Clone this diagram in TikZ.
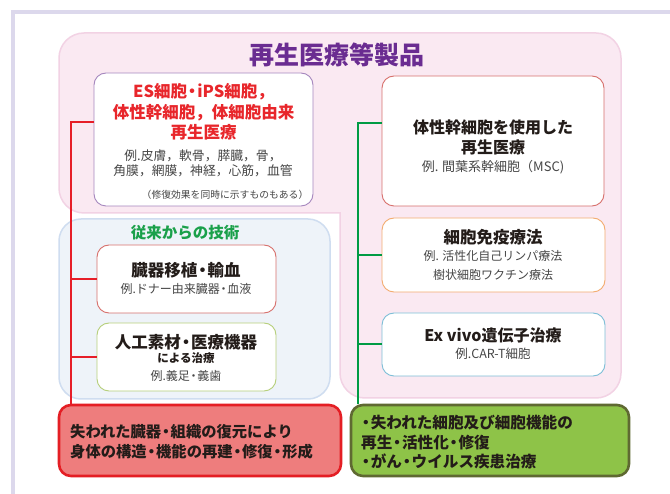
\documentclass[tikz,border=0pt]{standalone}
\usepackage{fontspec}
\setmainfont{Noto Sans CJK JP}
\newcommand{\ndot}{\makebox[0.62em]{・}}
\definecolor{frameC}{RGB}{220,216,236}
\definecolor{pinkF}{RGB}{250,233,242}
\definecolor{pinkD}{RGB}{242,210,228}
\definecolor{blueF}{RGB}{238,243,249}
\definecolor{blueD}{RGB}{207,221,240}
\definecolor{titleP}{RGB}{106,44,145}
\definecolor{redT}{RGB}{232,38,43}
\definecolor{greenT}{RGB}{26,160,74}
\definecolor{grayT}{RGB}{70,70,70}
\definecolor{darkT}{RGB}{35,28,25}
\definecolor{lineR}{RGB}{230,30,40}
\definecolor{lineG}{RGB}{0,155,68}
\definecolor{botRF}{RGB}{238,125,125}
\definecolor{botRD}{RGB}{228,30,36}
\definecolor{botGF}{RGB}{142,195,72}
\definecolor{botGD}{RGB}{95,105,50}
\definecolor{bPurple}{RGB}{165,135,190}
\definecolor{bRed}{RGB}{215,112,108}
\definecolor{bOrange}{RGB}{243,172,112}
\definecolor{bBlue}{RGB}{125,190,215}
\definecolor{bOlive}{RGB}{182,207,122}
\begin{document}
\begin{tikzpicture}[x=1pt,y=-1pt,
  box/.style={draw, fill=white, rounded corners=12pt, line width=0.9pt, inner sep=0pt},
  botbox/.style={rounded corners=12pt, line width=2.6pt, inner sep=0pt, minimum width=282pt, minimum height=71pt},
  ttl/.style={font=\bfseries\fontsize{16}{20}\selectfont, text=darkT, align=center, inner sep=0pt},
  ex/.style={font=\fontsize{12}{19}\selectfont, text=grayT, align=center, inner sep=0pt},
  conn/.style={line width=2pt}]
\useasboundingbox (0,0) rectangle (670,494);
\fill[white] (0,0) rectangle (670,494);
% outer frame
\draw[frameC, line width=4pt] (13,494) -- (13,12) -- (670,12);
% pink region
\fill[pinkF, rounded corners=25pt] (340,213) -- (59,213) -- (59,33) -- (621,33) -- (621,398) -- (340,398) -- (340,213);
\draw[pinkD, line width=1.5pt, rounded corners=25pt, line cap=rect] (340,213) -- (59,213) -- (59,33) -- (621,33) -- (621,398) -- (340,398) -- (340,213);
\node[font=\bfseries\fontsize{25}{28}\selectfont, text=titleP, inner sep=0pt] (title) at (337,55) {再生医療等製品};
% blue region
\node[draw=blueD, fill=blueF, rounded corners=22pt, line width=1.5pt, minimum width=271pt, minimum height=180pt, inner sep=0pt] (conv) at (194.5,309) {};
\node[font=\bfseries\fontsize{15.5}{18}\selectfont, text=greenT, inner sep=0pt] (convT) at (185,233) {従来からの技術};
% boxes
\node[box, draw=bPurple, minimum width=219pt, minimum height=133pt] (es) at (203.5,139.5) {};
\node[box, draw=bRed, minimum width=222pt, minimum height=130pt] (tr) at (493,141) {};
\node[box, draw=bOrange, minimum width=223pt, minimum height=74pt] (imm) at (493.5,255) {};
\node[box, draw=bBlue, minimum width=223pt, minimum height=63pt] (exv) at (493.5,344.5) {};
\node[box, draw=bRed, minimum width=179pt, minimum height=68pt] (org) at (186.5,279) {};
\node[box, draw=bOlive, minimum width=179pt, minimum height=68pt] (art) at (186.5,357) {};
\node[botbox, draw=botRD, fill=botRF] (rb) at (200,440.5) {};
\node[botbox, draw=botGD, fill=botGF, minimum width=278pt] (gb) at (490,440.5) {};
% texts in ES box
\node[font=\bfseries\fontsize{16.5}{20.5}\selectfont, text=redT, align=center, inner sep=0pt] (esT) at (203.5,112) {ES細胞\ndot iPS細胞，\\体性幹細胞，体細胞由来\\再生医療};
\node[font=\fontsize{12.8}{15.5}\selectfont, text=grayT, align=center, inner sep=0pt] (esE) at (203,163.5) {例.皮膚，軟骨，膵臓，骨，\\角膜，網膜，神経，心筋，血管};
\node[font=\fontsize{9.8}{12}\selectfont, text=grayT, inner sep=0pt] (esN) at (225,195) {（修復効果を同時に示すものもある）};
% right top box
\node[ttl, font=\bfseries\fontsize{16}{20}\selectfont] (trT) at (493,137) {体性幹細胞を使用した\\再生医療};
\node[ex, font=\fontsize{13}{16}\selectfont] (trE) at (493,167) {例. 間葉系幹細胞（MSC)};
% immune
\node[ttl, font=\bfseries\fontsize{16.5}{20}\selectfont] (immT) at (493,237) {細胞免疫療法};
\node[ex] (immE) at (493,265.5) {例. 活性化自己リンパ療法\\樹状細胞ワクチン療法};
% ex vivo
\node[ttl] (exT) at (493,335) {Ex vivo遺伝子治療};
\node[ex, font=\fontsize{12.5}{15}\selectfont] (exE) at (493,354) {例.CAR-T細胞};
% organ
\node[ttl, font=\bfseries\fontsize{16.5}{20}\selectfont] (orgT) at (186,270) {臓器移植\ndot 輸血};
\node[ex] (orgE) at (186,289) {例.ドナー由来臓器\ndot 血液};
% artificial
\node[ttl, font=\bfseries\fontsize{16.5}{20}\selectfont] (artT) at (186,342) {人工素材\ndot 医療機器};
\node[font=\bfseries\fontsize{11.5}{14}\selectfont, text=darkT, inner sep=0pt] (artS) at (186,358) {による治療};
\node[ex] (artE) at (186,376) {例.義足\ndot 義歯};
% bottom texts
\node[font=\bfseries\fontsize{15.3}{20}\selectfont, text=darkT, align=left, anchor=west, inner sep=0pt] (rbT) at (70,442) {失われた臓器\ndot 組織の復元により\\身体の構造\ndot 機能の再建\ndot 修復\ndot 形成};
\node[font=\bfseries\fontsize{15.6}{19.5}\selectfont, text=darkT, align=left, anchor=west, inner sep=0pt] (gbT) at (361,442.5) {\ndot 失われた細胞及び細胞機能の\\再生\ndot 活性化\ndot 修復\\\ndot がん\ndot ウイルス疾患治療};
% connectors
\coordinate (rtop) at (71,122);
\coordinate (gtop) at (358,123);
\draw[conn, lineR] (es.west |- rtop) -- (rtop) -- (rtop |- rb.north);
\draw[conn, lineR] (rtop |- org.west) -- (org.west);
\draw[conn, lineR] (rtop |- art.west) -- (art.west);
\draw[conn, lineG] (tr.west |- gtop) -- (gtop) -- (gtop |- gb.north);
\draw[conn, lineG] (gtop |- imm.west) -- (imm.west);
\draw[conn, lineG] (gtop |- exv.west) -- (exv.west);
\end{tikzpicture}
\end{document}
